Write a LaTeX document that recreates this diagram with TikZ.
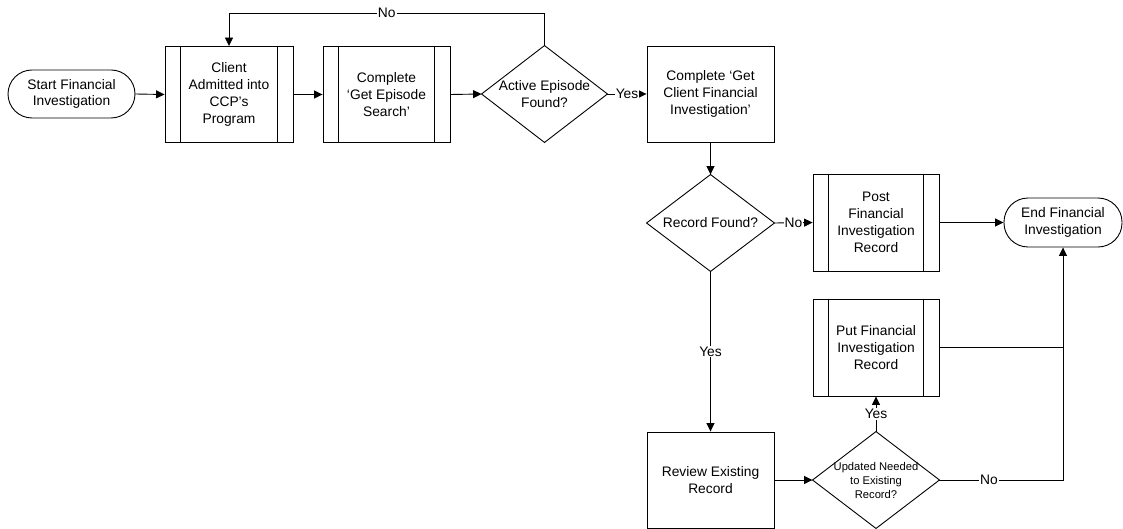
\documentclass[tikz,border=0pt]{standalone}
\usepackage{fontspec}
\setmainfont{Liberation Sans}
\usetikzlibrary{arrows.meta}

\begin{document}
\begin{tikzpicture}[x=1pt,y=-1pt,
  every node/.style={font=\fontsize{13.8}{16.8}\selectfont, align=center, inner sep=0pt},
  terminal/.style={draw, rectangle, rounded corners=24pt, minimum width=#1, minimum height=48pt},
  terminal/.default=127pt,
  procbox/.style={draw, rectangle, minimum width=127pt, minimum height=96pt},
  subproc/.style={procbox,
    append after command={
      ([xshift=16pt]\tikzlastnode.north west) edge[-] ([xshift=16pt]\tikzlastnode.south west)
      ([xshift=-16pt]\tikzlastnode.north east) edge[-] ([xshift=-16pt]\tikzlastnode.south east)}},
  decision/.style={rectangle, minimum width=126pt, minimum height=96pt,
    append after command={
      \pgfextra{\draw (\tikzlastnode.north) -- (\tikzlastnode.east) -- (\tikzlastnode.south)
      -- (\tikzlastnode.west) -- cycle;}}},
  arr/.style={-{Triangle[length=8.5pt,width=8pt]}},
  lbl/.style={fill=white, inner sep=1pt},
  line width=0.9pt, line join=miter
]
\useasboundingbox (0,0) rectangle (1123,529);

% top row
\node[terminal] (start) at (71.5,94) {Start Financial\\Investigation};
\node[subproc, minimum width=128pt] (client) at (229,94.5) {Client\\Admitted into\\CCP’s\\Program};
\node[subproc] (getep) at (386.5,94.5) {Complete\\‘Get Episode\\Search’};
\node[decision, minimum width=125pt] (active) at (544.5,94) {Active Episode\\Found?};
\node[procbox] (getfin) at (710.5,94) {Complete ‘Get\\Client Financial\\Investigation’};

% right-hand column
\node[decision, minimum width=127pt] (recfound) at (710.5,223) {Record Found?};
\node[subproc, minimum width=126pt, minimum height=97pt] (post) at (876,222.5) {Post\\Financial\\Investigation\\Record};
\node[terminal=118pt, minimum height=49pt] (endt) at (1063,222.5) {End Financial\\Investigation};
\node[subproc, minimum width=126pt, minimum height=97pt] (put) at (876,347.5) {Put Financial\\Investigation\\Record};
\node[procbox] (review) at (710.5,480) {Review Existing\\Record};
\node[decision, font=\fontsize{11.2}{14}\selectfont] (updated) at (876,480) {Updated Needed\\to Existing\\Record?};

\coordinate (looptop) at (0,13);

% connectors
\draw[arr] (start.east) -- (client.west);
\draw[arr] (client.east) -- (getep.west);
\draw[arr] (getep.east) -- (active.west);
\draw[arr] (active.north) -- (active.north |- looptop)
  -- node[lbl] {No} (client.north |- looptop) -- (client.north);
\draw[arr] (active.east) -- node[lbl] {Yes} (getfin.west);
\draw[arr] (getfin.south) -- (recfound.north);
\draw[arr] (recfound.east) -- node[lbl] {No} (post.west);
\draw[arr] (post.east) -- (endt.west);
\draw[arr] (recfound.south) -- node[lbl] {Yes} (review.north);
\draw[arr] (review.east) -- (updated.west);
\draw[arr] (updated.north) -- node[lbl] {Yes} (put.south);
\draw[arr] (updated.east) -- node[lbl, pos=0.4] {No} (endt.south |- updated.east) -- (endt.south);
\draw (put.east) -- (endt.south |- put.east);
\end{tikzpicture}
\end{document}
